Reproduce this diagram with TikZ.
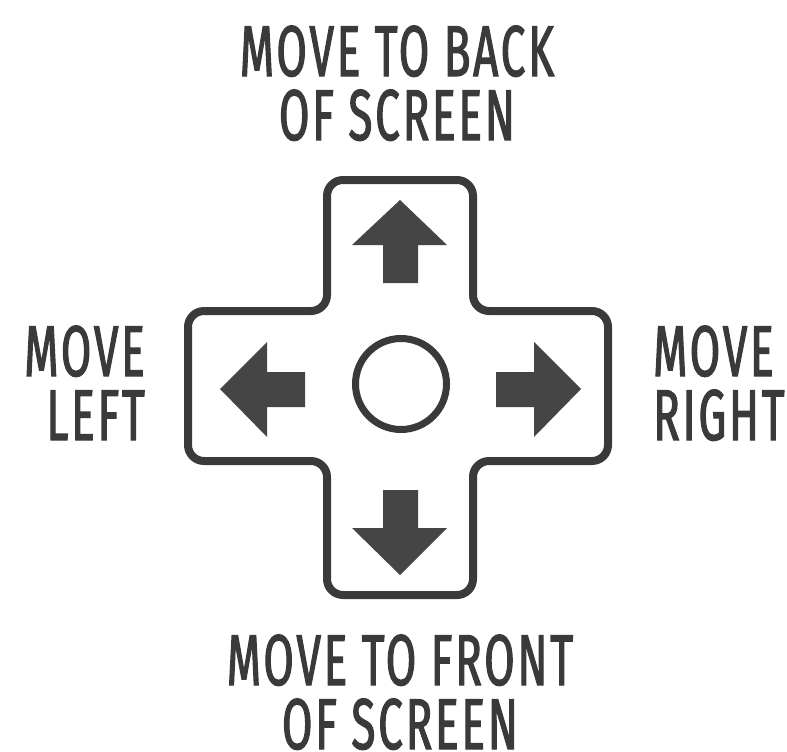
\documentclass[tikz,border=0pt]{standalone}
\usepackage{fontspec}
\setmainfont{Fira Sans}[FakeStretch=0.61,FakeBold=1.6,LetterSpace=4]
\definecolor{ink}{HTML}{3A3A3A}
\definecolor{arrowink}{HTML}{454545}
\begin{document}
\begin{tikzpicture}[x=1pt,y=-1pt,
  lbl/.style={inner sep=0pt,text=ink,font=\fontsize{72}{64}\selectfont},
  padarrow/.style={fill=arrowink,draw=none},
  padline/.style={draw=ink,line width=8pt,rounded corners=16pt}]
\useasboundingbox (0,0) rectangle (787,752);
\fill[white] (0,0) rectangle (787,752);
% cross outline
\draw[padline] (327,311) -- (327,180) -- (473,180) -- (473,311) -- (608,311) -- (608,461)
  -- (473,461) -- (473,595) -- (327,595) -- (327,461) -- (188,461) -- (188,311) -- cycle;
% centre button
\node[circle,draw=ink,line width=7pt,minimum size=91pt,inner sep=0pt] (btn) at (401,384) {};
% arrows
\fill[padarrow] (400,200) -- (447,245) -- (418,245) -- (418,283) -- (383,283) -- (383,245) -- (352,245) -- cycle;
\fill[padarrow] (400,575) -- (447,528) -- (418,528) -- (418,490) -- (383,490) -- (383,528) -- (352,528) -- cycle;
\fill[padarrow] (220,389) -- (267,342) -- (267,372) -- (305,372) -- (305,407) -- (267,407) -- (267,437) -- cycle;
\fill[padarrow] (581,389) -- (534,342) -- (534,372) -- (496,372) -- (496,407) -- (534,407) -- (534,437) -- cycle;
% labels (anchor = baseline of last line)
\node[lbl,anchor=base,align=center] (top) at (397,140) {MOVE TO BACK\\OF SCREEN};
\node[lbl,anchor=base,align=center] (bottom) at (400,749) {MOVE TO FRONT\\OF SCREEN};
\node[lbl,anchor=base east,align=right] (left) at (145,440) {MOVE\\LEFT};
\node[lbl,anchor=base west,align=left] (right) at (653,440) {MOVE\\RIGHT};
\end{tikzpicture}
\end{document}
